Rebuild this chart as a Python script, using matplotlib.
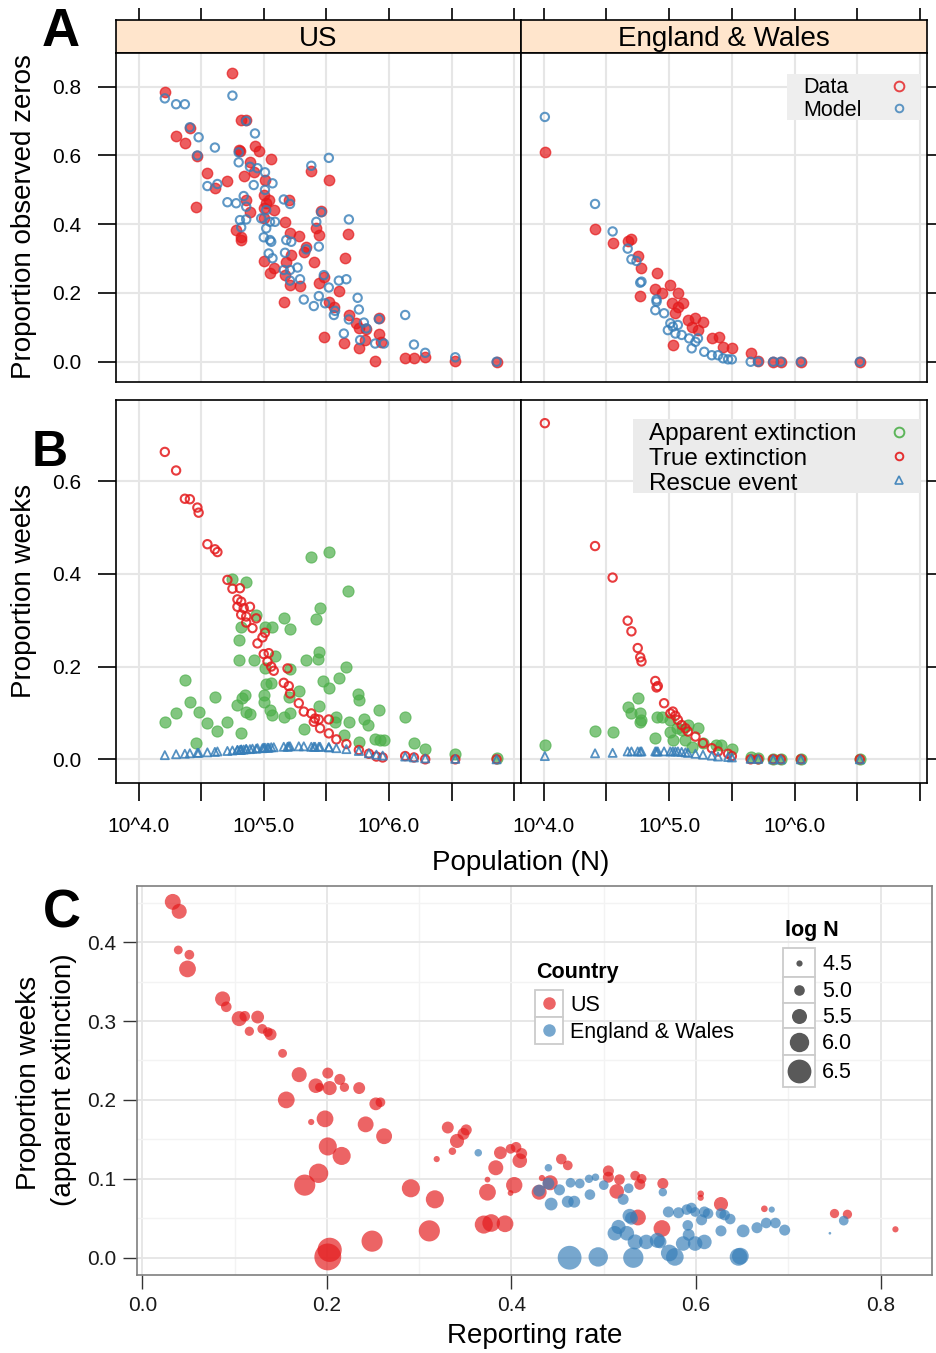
"""
Three-panel figure: proportion of zeros (A), extinction/rescue proportions (B)
and apparent extinction vs reporting rate (C), for US and England & Wales.
Saves out.png
"""
import matplotlib.pyplot as plt
import numpy as np
from matplotlib.lines import Line2D
from matplotlib.patches import Rectangle

# ---------------------------------------------------------------- data
# Panel A, US: log10 population vs proportion of observed zeros
us_a_data_logn = [4.21, 4.75, 4.30, 4.37, 4.41, 4.47, 4.55, 4.61, 4.71, 4.46,
                  4.82, 4.86, 4.80, 4.81, 4.93, 4.96, 4.89, 5.06, 4.84, 4.92,
                  5.01, 5.00, 4.86, 5.02, 5.00, 5.08, 4.89, 5.00, 5.17, 4.78,
                  4.82, 4.82, 5.20, 5.38, 5.52, 5.21, 5.28, 5.46, 5.42, 5.44,
                  5.67, 5.34, 5.32, 5.22, 5.00, 5.05, 5.08, 5.18, 5.40, 5.65,
                  5.17, 5.21, 5.29, 5.44, 5.48, 5.16, 5.60, 5.52, 5.56, 5.68,
                  5.74, 5.76, 5.82, 5.48, 5.64, 5.76, 5.81, 5.92, 5.92, 5.94,
                  5.89, 6.13, 6.20, 6.29, 6.53, 6.86, 5.04]
us_a_data_zero = [.784, .839, .658, .636, .679, .599, .548, .504, .525, .451,
                  .703, .703, .616, .612, .628, .613, .582, .590, .540, .553,
                  .529, .485, .470, .461, .446, .441, .436, .417, .407, .383,
                  .364, .354, .470, .556, .530, .375, .366, .439, .390, .369,
                  .373, .333, .320, .310, .294, .257, .272, .291, .291, .301,
                  .252, .223, .221, .228, .247, .175, .205, .175, .160, .136,
                  .112, .097, .094, .071, .055, .039, .063, .128, .082, .058,
                  .003, .010, .010, .013, .003, .000, .470]
us_a_model_logn = [4.21, 4.30, 4.37, 4.41, 4.48, 4.61, 4.47, 4.75, 4.86, 4.93,
                   4.80, 4.80, 4.89, 4.95, 5.01, 4.92, 5.07, 4.55, 4.63, 4.71,
                   4.78, 4.84, 4.86, 4.86, 4.81, 4.82, 5.01, 5.02, 4.98, 5.02,
                   5.05, 5.09, 5.00, 5.05, 5.06, 5.16, 5.21, 5.04, 5.07, 5.18,
                   5.22, 5.17, 5.27, 5.21, 5.16, 5.29, 5.21, 5.34, 5.38, 5.52,
                   5.46, 5.42, 5.44, 5.48, 5.52, 5.32, 5.40, 5.44, 5.49, 5.57,
                   5.56, 5.60, 5.66, 5.68, 5.75, 5.76, 5.68, 5.80, 5.64, 5.77,
                   5.92, 5.89, 5.96, 6.13, 6.20, 6.29, 6.53, 6.86, 5.82]
us_a_model_zero = [.766, .749, .749, .682, .653, .623, .600, .774, .700, .664,
                   .609, .580, .567, .563, .551, .514, .519, .511, .517, .464,
                   .461, .482, .451, .414, .412, .391, .500, .441, .417, .388,
                   .407, .407, .362, .354, .349, .472, .459, .315, .301, .354,
                   .349, .317, .274, .267, .267, .240, .236, .327, .570, .593,
                   .435, .407, .335, .252, .216, .181, .162, .191, .170, .148,
                   .136, .236, .240, .414, .186, .152, .123, .114, .082, .063,
                   .124, .053, .053, .136, .050, .026, .013, .000, .097]

# Panel A, England & Wales
ew_a_data_logn = [4.01, 4.41, 4.55, 4.67, 4.70, 4.75, 4.78, 4.77, 4.90, 4.89,
                  4.94, 5.01, 5.07, 5.02, 5.07, 5.11, 5.03, 5.15, 5.21, 5.27,
                  5.18, 5.34, 5.40, 5.43, 5.50, 5.65, 5.71, 5.83, 5.89, 6.05,
                  6.52, 5.23, 5.05]
ew_a_data_zero = [.609, .385, .344, .352, .356, .307, .272, .191, .259, .213,
                  .199, .223, .199, .170, .160, .170, .048, .121, .126, .116,
                  .102, .068, .073, .044, .039, .026, .003, .000, .000, .000,
                  .000, .092, .141]
ew_a_model_logn = [4.01, 4.41, 4.55, 4.67, 4.70, 4.74, 4.77, 4.78, 4.90, 4.90,
                   4.89, 4.96, 5.01, 5.03, 5.07, 5.05, 5.16, 5.21, 5.23, 5.18,
                   5.28, 5.34, 5.39, 5.43, 5.50, 5.65, 5.71, 5.83, 5.89, 6.05,
                   6.52, 4.99, 5.10, 5.47]
ew_a_model_zero = [.712, .459, .379, .329, .298, .293, .230, .233, .175, .181,
                   .150, .141, .112, .102, .107, .082, .068, .058, .068, .039,
                   .029, .019, .019, .010, .007, .000, .000, .000, .000, .000,
                   .000, .092, .078, .007]

# Panel B, US: true extinction / rescue (same cities), apparent extinction
us_b_logn = [4.21, 4.30, 4.37, 4.41, 4.47, 4.48, 4.55, 4.61, 4.63, 4.71,
             4.75, 4.81, 4.79, 4.82, 4.79, 4.84, 4.89, 4.82, 4.86, 4.94,
             4.86, 4.91, 5.01, 4.99, 4.95, 5.00, 5.04, 5.03, 5.06, 5.08,
             5.19, 5.16, 5.20, 5.21, 5.28, 5.32, 5.38, 5.41, 5.44, 5.52,
             5.45, 5.52, 5.58, 5.66, 5.76, 5.84, 5.90, 5.95, 6.13, 6.20,
             6.29, 6.53, 6.86, 5.40]
us_b_true = [.663, .623, .562, .561, .543, .532, .464, .453, .447, .387,
             .368, .369, .345, .340, .329, .326, .329, .312, .308, .304,
             .295, .283, .273, .263, .250, .227, .229, .211, .200, .191,
             .196, .165, .158, .142, .121, .103, .099, .088, .086, .086,
             .067, .056, .043, .033, .020, .012, .006, .004, .007, .004,
             .000, .000, .000, .081]
us_b_rescue = [.009, .011, .012, .013, .014, .014, .015, .016, .017, .018,
               .019, .020, .020, .021, .020, .021, .022, .021, .022, .023,
               .022, .023, .025, .024, .024, .025, .025, .025, .026, .026,
               .027, .027, .028, .028, .028, .028, .027, .027, .027, .026,
               .027, .026, .024, .022, .018, .013, .010, .008, .006, .004,
               .002, .001, .000, .027]
us_b_app_logn = [4.21, 4.30, 4.37, 4.41, 4.48, 4.55, 4.61, 4.63, 4.71, 4.46,
                 4.75, 4.86, 4.79, 4.82, 4.83, 4.85, 4.86, 4.89, 4.80, 4.80,
                 4.82, 4.92, 4.94, 5.01, 5.07, 5.00, 5.00, 5.02, 5.06, 5.05,
                 5.07, 5.01, 5.09, 5.16, 5.21, 5.21, 5.16, 5.21, 5.28, 5.20,
                 5.32, 5.34, 5.38, 5.52, 5.45, 5.42, 5.44, 5.43, 5.44, 5.47,
                 5.52, 5.60, 5.66, 5.67, 5.58, 5.57, 5.68, 5.75, 5.76, 5.80,
                 5.83, 5.92, 5.64, 5.76, 5.89, 5.93, 5.96, 6.13, 6.20, 6.29,
                 6.53, 6.86]
us_b_app = [.081, .099, .171, .124, .101, .078, .135, .062, .080, .036,
            .389, .383, .117, .056, .132, .139, .103, .098, .258, .214,
            .286, .214, .312, .286, .286, .139, .124, .163, .164, .106,
            .096, .196, .223, .304, .281, .194, .092, .099, .148, .135,
            .065, .214, .437, .448, .327, .302, .232, .216, .114, .169,
            .153, .176, .200, .364, .092, .081, .081, .141, .128, .088,
            .074, .106, .053, .038, .043, .042, .042, .091, .035, .022,
            .011, .002]

# Panel B, England & Wales
ew_b_logn = [4.01, 4.41, 4.55, 4.67, 4.70, 4.75, 4.77, 4.78, 4.89, 4.91,
             4.90, 4.96, 5.01, 5.05, 5.07, 5.10, 5.15, 5.21, 5.27, 5.34,
             5.39, 5.47, 5.50, 5.65, 5.71, 5.83, 5.89, 6.05, 6.52, 5.03,
             5.13]
ew_b_true = [.725, .460, .392, .299, .276, .240, .220, .211, .169, .158,
             .155, .121, .099, .094, .085, .074, .060, .049, .035, .024,
             .017, .012, .007, .000, .000, .000, .000, .000, .000, .103,
             .067]
ew_b_rescue = [.007, .013, .014, .017, .017, .017, .017, .017, .017, .017,
               .017, .017, .017, .017, .017, .016, .014, .012, .010, .008,
               .006, .005, .004, .001, .001, .000, .000, .000, .000, .017,
               .015]
ew_b_app_logn = [4.01, 4.41, 4.55, 4.67, 4.70, 4.75, 4.77, 4.77, 4.89, 4.90,
                 4.94, 5.01, 5.01, 5.03, 5.10, 5.15, 5.23, 5.13, 5.27, 5.37,
                 5.41, 5.50, 5.65, 5.71, 5.83, 5.89, 6.05, 6.52, 5.06, 5.18,
                 4.78]
ew_b_app = [.031, .062, .060, .112, .099, .133, .099, .081, .045, .092,
            .092, .085, .060, .042, .063, .074, .067, .042, .035, .031,
            .031, .022, .006, .002, .000, .000, .000, .000, .067, .027,
            .085]

# Panel C: reporting rate, apparent extinction, log N
us_c_rr = [.033, .040, .039, .051, .049, .087, .091, .105, .111, .125,
           .116, .130, .136, .139, .152, .170, .201, .214, .219, .188,
           .192, .203, .235, .253, .258, .156, .183, .198, .242, .262,
           .201, .216, .191, .176, .203, .201, .249, .311, .291, .317,
           .331, .319, .336, .341, .348, .351, .370, .378, .393, .374,
           .374, .383, .388, .399, .403, .399, .405, .409, .411, .433,
           .442, .430, .454, .461, .505, .505, .517, .514, .534, .541,
           .539, .564, .537, .563, .605, .605, .627, .674, .750, .764,
           .816]
us_c_prop = [.451, .439, .390, .384, .366, .328, .318, .303, .306, .305,
             .287, .290, .286, .283, .259, .232, .234, .226, .216, .218,
             .216, .215, .215, .195, .197, .200, .172, .176, .169, .154,
             .141, .129, .107, .092, .010, .001, .021, .034, .088, .074,
             .165, .125, .135, .148, .157, .162, .042, .044, .043, .083,
             .099, .114, .133, .082, .092, .138, .140, .123, .132, .101,
             .095, .083, .125, .117, .110, .102, .099, .084, .104, .100,
             .093, .094, .051, .037, .081, .076, .068, .062, .056, .055,
             .036]
us_c_logn = [5.60, 5.50, 4.80, 4.90, 5.70, 5.50, 5.00, 5.50, 5.00, 5.25,
             4.85, 4.90, 4.90, 5.15, 4.80, 5.50, 5.05, 5.05, 4.85, 5.45,
             4.80, 5.40, 5.15, 5.25, 4.90, 5.70, 4.50, 5.70, 5.60, 5.60,
             5.85, 5.85, 6.00, 6.20, 6.55, 6.85, 6.20, 6.20, 5.85, 5.85,
             5.15, 4.50, 4.65, 5.40, 5.15, 5.05, 5.85, 5.80, 5.70, 5.70,
             4.45, 5.50, 5.25, 4.45, 5.65, 4.90, 5.00, 5.45, 5.05, 4.50,
             5.50, 5.50, 5.00, 4.90, 5.05, 5.05, 5.00, 5.45, 4.90, 4.90,
             5.05, 5.05, 5.60, 5.70, 4.55, 4.50, 5.40, 4.55, 4.85, 4.85,
             4.50]
ew_c_rr = [.364, .440, .440, .430, .452, .443, .461, .468, .464, .474,
           .484, .491, .485, .500, .521, .527, .564, .528, .530, .516,
           .512, .525, .534, .546, .558, .561, .570, .581, .590, .595,
           .599, .609, .606, .613, .627, .631, .637, .591, .592, .586,
           .599, .609, .571, .577, .463, .494, .532, .646, .648, .627,
           .651, .666, .676, .686, .696, .682, .760, .745]
ew_c_prop = [.133, .114, .094, .085, .086, .068, .071, .071, .095, .094,
             .100, .102, .080, .092, .074, .088, .083, .053, .050, .039,
             .031, .031, .020, .020, .022, .020, .058, .057, .061, .063,
             .058, .058, .048, .056, .056, .054, .049, .041, .029, .018,
             .018, .020, .006, .001, .000, .001, .000, .001, .002, .034,
             .034, .038, .044, .044, .035, .061, .047, .031]
ew_c_logn = [4.65, 4.65, 5.15, 5.15, 5.05, 5.25, 5.15, 5.15, 4.90, 4.90,
             4.75, 4.65, 5.00, 4.90, 5.05, 4.90, 4.75, 5.40, 5.25, 5.40,
             5.45, 5.45, 5.50, 5.45, 5.50, 5.25, 5.05, 5.05, 5.00, 5.00,
             4.90, 5.05, 5.05, 5.00, 5.00, 5.00, 5.00, 5.00, 5.15, 5.45,
             5.45, 5.45, 5.70, 5.80, 6.50, 6.00, 6.10, 5.80, 5.70, 5.05,
             5.25, 5.05, 5.00, 5.00, 5.05, 4.50, 4.90, 4.10]

size_keys = [4.5, 5.0, 5.5, 6.0, 6.5]

# ---------------------------------------------------------------- style
W, H = 937, 1353
RED, BLUE, GREEN = "#E41A1C", "#377EB8", "#4DAF4A"
GRID = "#E6E6E6"
XLIM = (3.82, 7.055)
XT = [4.0, 4.5, 5.0, 5.5, 6.0, 6.5, 7.0]
XT_LABELS = ["10^4.0", "", "10^5.0", "", "10^6.0", "", ""]

plt.rcParams["font.family"] = ["Liberation Sans", "DejaVu Sans"]
fig = plt.figure(figsize=(W / 100, H / 100), dpi=100)


def px_axes(x0, y0, x1, y1):
    return fig.add_axes([x0 / W, 1 - y1 / H, (x1 - x0) / W, (y1 - y0) / H])


def ftext(x, y, s, **kw):
    fig.text(x / W, 1 - y / H, s, **kw)


def fmarker(x, y, **kw):
    fig.add_artist(Line2D([x / W], [1 - y / H], transform=fig.transFigure,
                          linestyle="none", **kw))


def fbox(x0, y0, x1, y1, **kw):
    fig.add_artist(Rectangle((x0 / W, 1 - y1 / H), (x1 - x0) / W, (y1 - y0) / H,
                             transform=fig.transFigure, **kw))


def lattice_panel(ax, ylim, yticks):
    ax.set_xlim(XLIM)
    ax.set_ylim(ylim)
    for v in XT:
        ax.axvline(v, color=GRID, lw=1.5, zorder=0)
    for v in yticks:
        ax.axhline(v, color=GRID, lw=1.5, zorder=0)
    for sp in ax.spines.values():
        sp.set_linewidth(1.2)
    ax.set_xticks(XT)
    ax.set_xticklabels(XT_LABELS)
    ax.set_yticks(yticks)
    ax.set_yticklabels([f"{v:.1f}" for v in yticks])
    ax.tick_params(direction="out", length=13, width=1.2, labelsize=15, pad=12,
                   bottom=False, top=False, left=False, right=False,
                   labelbottom=False, labelleft=False)


def size_pt(logn):
    d = np.clip(6.2 + (np.asarray(logn, dtype=float) - 4.5) * 8.8, 2.0, None)
    return d * 0.72


# ---------------------------------------------------------------- strips
for x0, x1, name in [(116, 521, "US"), (521, 927, "England & Wales")]:
    st = px_axes(x0, 20, x1, 53)
    st.set_facecolor("#FFE5CC")
    st.set_xlim(XLIM)
    st.set_xticks(XT)
    st.set_yticks([])
    st.xaxis.set_ticks_position("top")
    st.tick_params(axis="x", direction="out", length=9, width=1.2,
                   labeltop=False, labelbottom=False)
    for sp in st.spines.values():
        sp.set_linewidth(1.2)
    ftext((x0 + x1) / 2, 46, name, fontsize=20, ha="center", va="baseline")

# ---------------------------------------------------------------- panel A
A_YT = [0.0, 0.2, 0.4, 0.6, 0.8]
a_us = px_axes(116, 53, 521, 381.7)
a_ew = px_axes(521, 53, 927, 381.7)
for ax in (a_us, a_ew):
    lattice_panel(ax, (-0.058, 0.898), A_YT)
a_us.tick_params(axis="y", left=True, labelleft=True)
a_ew.tick_params(axis="y", right=True)

for ax, dl, dz, ml, mz in [
    (a_us, us_a_data_logn, us_a_data_zero, us_a_model_logn, us_a_model_zero),
    (a_ew, ew_a_data_logn, ew_a_data_zero, ew_a_model_logn, ew_a_model_zero),
]:
    ax.scatter(dl, dz, s=56, facecolor=RED, edgecolor=RED, lw=1.0, alpha=0.7, zorder=2)
    ax.scatter(ml, mz, s=36, facecolor="none", edgecolor=BLUE, lw=1.5, alpha=0.8, zorder=3)

fbox(787, 74, 920, 120, facecolor="#EEEEEE", edgecolor="none")
ftext(803, 93, "Data", fontsize=15.5, va="baseline")
ftext(803, 116, "Model", fontsize=15.5, va="baseline")
fmarker(899, 86, marker="o", markersize=7, markerfacecolor="none",
        markeredgecolor=RED, markeredgewidth=1.4, alpha=0.8)
fmarker(899, 108, marker="o", markersize=5.5, markerfacecolor="none",
        markeredgecolor=BLUE, markeredgewidth=1.4, alpha=0.8)

# ---------------------------------------------------------------- panel B
B_YT = [0.0, 0.2, 0.4, 0.6]
b_us = px_axes(116, 400, 521, 782.5)
b_ew = px_axes(521, 400, 927, 782.5)
for ax in (b_us, b_ew):
    lattice_panel(ax, (-0.050, 0.775), B_YT)
    ax.tick_params(axis="x", bottom=True, labelbottom=True)
b_us.tick_params(axis="y", left=True, labelleft=True)
b_ew.tick_params(axis="y", right=True)

for ax, al, av, bl, bt, br in [
    (b_us, us_b_app_logn, us_b_app, us_b_logn, us_b_true, us_b_rescue),
    (b_ew, ew_b_app_logn, ew_b_app, ew_b_logn, ew_b_true, ew_b_rescue),
]:
    ax.scatter(al, av, s=64, facecolor=GREEN, edgecolor=GREEN, lw=0.8, alpha=0.7, zorder=2)
    ax.scatter(bl, bt, s=36, facecolor="none", edgecolor=RED, lw=1.5, alpha=0.85, zorder=3)
    ax.scatter(bl, br, s=34, marker="^", facecolor="none", edgecolor=BLUE, lw=1.3,
               alpha=0.85, zorder=4)

fbox(633, 419, 920, 493, facecolor="#EBEBEB", edgecolor="none")
for y, lab in [(440, "Apparent extinction"), (465, "True extinction"), (490, "Rescue event")]:
    ftext(649, y, lab, fontsize=17.5, va="baseline")
fmarker(899, 432, marker="o", markersize=7, markerfacecolor="none",
        markeredgecolor=GREEN, markeredgewidth=1.4, alpha=0.9)
fmarker(899, 456, marker="o", markersize=5.5, markerfacecolor="none",
        markeredgecolor=RED, markeredgewidth=1.4, alpha=0.9)
fmarker(899, 480, marker="^", markersize=5.5, markerfacecolor="none",
        markeredgecolor=BLUE, markeredgewidth=1.2, alpha=0.9)

ftext(24, 217, "Proportion observed zeros", fontsize=20, rotation=90,
      ha="center", va="center")
ftext(24, 591, "Proportion weeks", fontsize=20, rotation=90, ha="center", va="center")
ftext(521, 870, "Population (N)", fontsize=20, ha="center", va="baseline")

# ---------------------------------------------------------------- panel C
c = px_axes(137.3, 886, 931.7, 1275)
c.set_xlim(-0.0054, 0.8553)
c.set_ylim(-0.0219, 0.4711)
c.set_xticks([0.0, 0.2, 0.4, 0.6, 0.8])
c.set_yticks([0.0, 0.1, 0.2, 0.3, 0.4])
c.set_xticks([0.1, 0.3, 0.5, 0.7], minor=True)
c.set_yticks([0.05, 0.15, 0.25, 0.35, 0.45], minor=True)
c.xaxis.set_major_formatter(plt.FormatStrFormatter("%.1f"))
c.yaxis.set_major_formatter(plt.FormatStrFormatter("%.1f"))
c.grid(which="major", color="#E5E5E5", lw=1.3)
c.grid(which="minor", color="#F3F3F3", lw=1.0)
c.set_axisbelow(True)
c.tick_params(which="major", direction="out", length=10, width=1.0, color="#333333",
              labelsize=15, pad=5, labelcolor="#1A1A1A")
c.tick_params(which="minor", length=0)
for sp in c.spines.values():
    sp.set_color("#7F7F7F")
    sp.set_linewidth(1.2)

c.scatter(us_c_rr, us_c_prop, s=size_pt(us_c_logn) ** 2, color=RED, alpha=0.68,
          edgecolor="none", zorder=2)
c.scatter(ew_c_rr, ew_c_prop, s=size_pt(ew_c_logn) ** 2, color=BLUE, alpha=0.68,
          edgecolor="none", zorder=3)

ftext(29, 1083, "Proportion weeks", fontsize=20, rotation=90, ha="center", va="center")
ftext(64, 1080, "(apparent extinction)", fontsize=20, rotation=90, ha="center", va="center")
ftext(535, 1343, "Reporting rate", fontsize=20, ha="center", va="baseline")

# colour legend
ftext(536.5, 978, "Country", fontsize=15.5, fontweight="bold", va="baseline")
for y0, y1, col, lab, yb in [(990, 1016.7, RED, "US", 1011),
                             (1016.7, 1043.5, BLUE, "England & Wales", 1038)]:
    fbox(535, y0, 563.3, y1, facecolor="white", edgecolor="#CCCCCC", lw=1.3)
    fmarker(549, (y0 + y1) / 2, marker="o", markersize=9, color=col, alpha=0.68,
            markeredgewidth=0)
    ftext(570, yb, lab, fontsize=15.5, va="baseline")

# size legend
ftext(785, 936, "log N", fontsize=15.5, fontweight="bold", va="baseline")
key_edges = [948.3, 976.7, 1002.7, 1028.3, 1055, 1086.7]
key_base = [970, 996.7, 1022.7, 1049, 1078]
for i, v in enumerate(size_keys):
    y0, y1 = key_edges[i], key_edges[i + 1]
    fbox(783.3, y0, 815, y1, facecolor="white", edgecolor="#CCCCCC", lw=1.3)
    fmarker(799, (y0 + y1) / 2, marker="o", markersize=float(size_pt(v)),
            color="black", alpha=0.65, markeredgewidth=0)
    ftext(822.3, key_base[i], f"{v:.1f}", fontsize=15.5, va="baseline")

# ---------------------------------------------------------------- letters
ftext(61, 46, "A", fontsize=38, fontweight="bold", ha="center", va="baseline")
ftext(50, 466, "B", fontsize=36, fontweight="bold", ha="center", va="baseline")
ftext(62, 928, "C", fontsize=38, fontweight="bold", ha="center", va="baseline")

fig.savefig("out.png", dpi=100)
